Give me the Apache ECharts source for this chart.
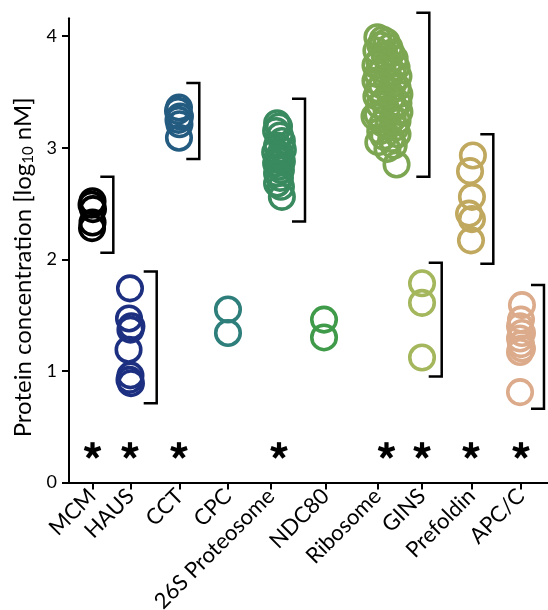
<!DOCTYPE html>
<html>
<head>
<meta charset="utf-8">
<script src="https://cdn.jsdelivr.net/npm/echarts@6/dist/echarts.min.js"></script>
<style>
  html, body { margin: 0; padding: 0; background: #fff; }
  #chart { width: 548px; height: 610px; }
</style>
</head>
<body>
<div id="chart"></div>
<script>
// Protein complexes along the x axis
const complexes = ['MCM', 'HAUS', 'CCT', 'CPC', '26S Proteosome', 'NDC80', 'Ribosome', 'GINS', 'Prefoldin', 'APC/C'];
// Axis tick positions and cluster centres (x axis units, 0..10)
const tickX  = [0.486, 1.284, 2.309, 3.319, 4.217, 5.357, 6.440, 7.370, 8.400, 9.436];
const groupX = [0.491, 1.273, 2.296, 3.319, 4.384, 5.324, 6.628, 7.370, 8.392, 9.436];
const colors = ['#000000', '#1c2f80', '#245b80', '#2e7f7b', '#3a8a5f', '#3f9a4a', '#7ca651', '#a4b75c', '#c0a85e', '#dcab8b'];

// log10 concentrations (nM) of each subunit, with horizontal jitter
const mcmValues   = [2.52, 2.49, 2.45, 2.33, 2.28];
const mcmJitter   = [0.00, -0.02, 0.01, 0.00, -0.01];
const hausValues  = [1.74, 1.47, 1.40, 1.37, 1.19, 0.96, 0.92, 0.89];
const hausJitter  = [0.00, -0.02, 0.03, 0.01, -0.03, 0.01, -0.01, 0.02];
const cctValues   = [3.36, 3.33, 3.28, 3.25, 3.21, 3.09];
const cctJitter   = [0.00, -0.02, 0.02, -0.01, 0.01, 0.00];
const cpcValues   = [1.55, 1.34];
const cpcJitter   = [0.00, 0.00];
const prot26Values = [3.22, 3.19, 3.15, 3.11, 3.06, 3.02, 2.98, 2.96, 2.94, 2.92, 2.90, 2.88, 2.86, 2.83, 2.80, 2.77, 2.73, 2.68, 2.65, 2.56];
const prot26Jitter = [-0.04, 0.00, -0.06, 0.02, 0.06, -0.04, 0.08, -0.08, 0.02, 0.04, -0.02, 0.06, -0.06, 0.00, 0.04, -0.04, 0.02, -0.04, 0.04, 0.06];
const ndc80Values = [1.46, 1.30];
const ndc80Jitter = [0.00, 0.00];
const riboValues  = [3.99, 3.97, 3.95, 3.92, 3.90, 3.87, 3.85, 3.83, 3.80, 3.78, 3.76, 3.74, 3.72, 3.70, 3.68, 3.66,
                     3.64, 3.62, 3.60, 3.58, 3.56, 3.54, 3.52, 3.50, 3.48, 3.46, 3.44, 3.42, 3.40, 3.38, 3.36, 3.34,
                     3.32, 3.30, 3.28, 3.26, 3.24, 3.22, 3.20, 3.18, 3.15, 3.12, 3.10, 3.08, 3.05, 3.02, 2.99, 2.85];
const riboJitter  = [-0.19, -0.08, 0.00, -0.13, 0.06, -0.21, 0.10, -0.04, 0.17, -0.15, 0.04, -0.23, 0.21, -0.08, 0.13, -0.19,
                     0.25, 0.00, -0.23, 0.15, -0.10, 0.23, -0.17, 0.06, 0.27, -0.21, 0.10, -0.06, 0.25, -0.15, 0.17, 0.00,
                     0.27, -0.19, -0.25, 0.13, 0.23, -0.08, 0.04, 0.19, -0.13, 0.23, -0.06, 0.10, -0.17, 0.15, 0.02, 0.21];
const ginsValues  = [1.785, 1.61, 1.12];
const ginsJitter  = [0.00, 0.00, 0.00];
const prefValues  = [2.93, 2.79, 2.56, 2.41, 2.36, 2.17];
const prefJitter  = [0.04, -0.02, 0.02, -0.04, 0.02, 0.00];
const apcValues   = [1.59, 1.46, 1.40, 1.34, 1.29, 1.24, 1.20, 1.17, 0.81];
const apcJitter   = [0.02, 0.00, -0.02, 0.02, -0.02, 0.00, 0.02, -0.02, -0.02];

// Range brackets drawn to the right of each cluster (null = no bracket)
const bracketX      = [0.925, 1.831, 2.720, null, 4.927, null, 7.522, 7.781, 8.858, 9.916];
const bracketTop    = [2.74, 1.89, 3.58, null, 3.44, null, 4.21, 1.97, 3.12, 1.77];
const bracketBottom = [2.06, 0.71, 2.90, null, 2.34, null, 2.74, 0.95, 1.96, 0.66];
// Significance markers
const significant = [true, true, true, false, true, false, true, true, true, true];
const starLevel = 0.285;

const yTicks = [0, 1, 2, 3, 4];

const groupValues = [mcmValues, hausValues, cctValues, cpcValues, prot26Values, ndc80Values, riboValues, ginsValues, prefValues, apcValues];
const groupJitter = [mcmJitter, hausJitter, cctJitter, cpcJitter, prot26Jitter, ndc80Jitter, riboJitter, ginsJitter, prefJitter, apcJitter];

const FONT = 'Lato';

const scatterSeries = complexes.map((name, g) => ({
  type: 'scatter',
  name: name,
  symbol: 'circle',
  symbolSize: 24.5,
  itemStyle: { color: 'rgba(0,0,0,0)', borderColor: colors[g], borderWidth: 3.6, opacity: 1 },
  emphasis: { disabled: true },
  data: groupValues[g].map((v, i) => [groupX[g] + groupJitter[g][i], v])
}));

const bracketData = [];
bracketX.forEach((x, g) => {
  if (x !== null) bracketData.push([x, bracketTop[g], bracketBottom[g]]);
});

const starData = [];
significant.forEach((s, g) => { if (s) starData.push([groupX[g], starLevel]); });

const bracketSeries = {
  type: 'custom',
  data: bracketData,
  encode: { x: 0, y: [1, 2] },
  renderItem: function (params, api) {
    const top = api.coord([api.value(0), api.value(1)]);
    const bot = api.coord([api.value(0), api.value(2)]);
    const arm = 13;
    return {
      type: 'polyline',
      shape: { points: [[top[0] - arm, top[1]], [top[0], top[1]], [bot[0], bot[1]], [bot[0] - arm, bot[1]]] },
      style: { stroke: '#000', lineWidth: 2.5, fill: null }
    };
  },
  silent: true,
  z: 3
};

const starSeries = {
  type: 'custom',
  data: starData,
  encode: { x: 0, y: 1 },
  renderItem: function (params, api) {
    const c = api.coord([api.value(0), api.value(1)]);
    const len = 8.5;
    const children = [];
    for (let k = 0; k < 5; k++) {
      const a = (-90 + 72 * k) * Math.PI / 180;
      children.push({
        type: 'line',
        shape: { x1: c[0], y1: c[1], x2: c[0] + len * Math.cos(a), y2: c[1] + len * Math.sin(a) },
        style: { stroke: '#000', lineWidth: 4.2, lineCap: 'butt' }
      });
    }
    return { type: 'group', children: children };
  },
  silent: true,
  z: 3
};

const chart = echarts.init(document.getElementById('chart'), null, { renderer: 'canvas' });
chart.setOption({
  animation: false,
  backgroundColor: '#fff',
  grid: { left: 69, right: 0, top: 18.3, bottom: 127.5, containLabel: false, outerBoundsMode: 'none' },
  xAxis: {
    type: 'value',
    min: 0,
    max: 10,
    splitLine: { show: false },
    axisLine: { show: true, onZero: false, lineStyle: { color: '#000', width: 2 } },
    axisTick: { show: true, customValues: tickX, length: 7, lineStyle: { color: '#000', width: 2 } },
    axisLabel: {
      customValues: tickX,
      rotate: 45,
      margin: 10,
      fontFamily: FONT,
      fontSize: 22,
      color: '#000',
      formatter: function (v) {
        let best = 0, bd = Infinity;
        tickX.forEach((t, i) => { const d = Math.abs(t - v); if (d < bd) { bd = d; best = i; } });
        return complexes[best];
      }
    }
  },
  yAxis: {
    type: 'value',
    min: 0,
    max: 4.16,
    splitLine: { show: false },
    axisLine: { show: true, lineStyle: { color: '#000', width: 2 } },
    axisTick: { show: true, customValues: yTicks, length: 7, lineStyle: { color: '#000', width: 2 } },
    axisLabel: { customValues: yTicks, margin: 12, fontFamily: FONT, fontSize: 18, color: '#000' },
    name: '{t|Protein concentration [log}{s|10}{t| nM]}',
    nameLocation: 'middle',
    nameRotate: 90,
    nameGap: 33,
    nameTextStyle: {
      padding: [0, 34, 0, 0],
      rich: {
        t: { fontFamily: FONT, fontSize: 24, color: '#000', verticalAlign: 'bottom', lineHeight: 30 },
        s: { fontFamily: FONT, fontSize: 15, color: '#000', verticalAlign: 'bottom', lineHeight: 22 }
      }
    }
  },
  series: scatterSeries.concat([bracketSeries, starSeries])
});
</script>
</body>
</html>
